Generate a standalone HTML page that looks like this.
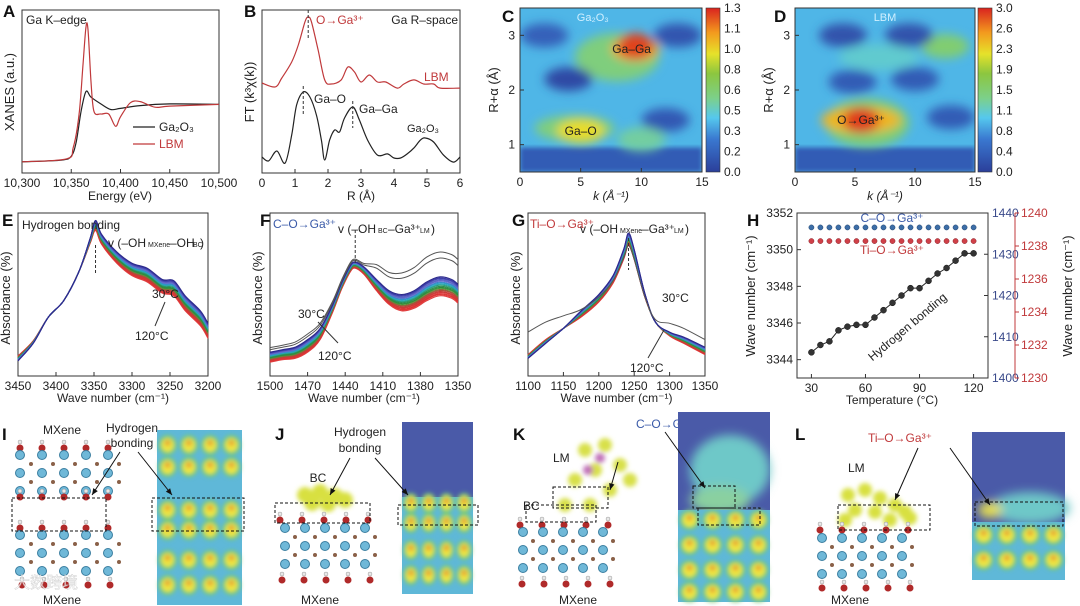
<!DOCTYPE html>
<html><head><meta charset="utf-8"><style>
html,body{margin:0;padding:0;background:#fff;}
svg{display:block;font-family:"Liberation Sans","Noto Sans CJK SC",sans-serif;}
</style></head><body>
<svg id="fig" width="1080" height="606" viewBox="0 0 1080 606" xmlns="http://www.w3.org/2000/svg">
<defs>
<linearGradient id="jet" x1="0" y1="1" x2="0" y2="0">
<stop offset="0" stop-color="#2b3f9a"/><stop offset="0.2" stop-color="#3a78d0"/><stop offset="0.33" stop-color="#55c8ee"/>
<stop offset="0.45" stop-color="#7cd08a"/><stop offset="0.6" stop-color="#8cc63f"/><stop offset="0.72" stop-color="#e6e22a"/>
<stop offset="0.85" stop-color="#f39a1e"/><stop offset="1" stop-color="#d9231f"/></linearGradient>
<filter id="blur6" x="-30%" y="-30%" width="160%" height="160%"><feGaussianBlur stdDeviation="5"/></filter>
<filter id="blur3"><feGaussianBlur stdDeviation="2.5"/></filter>
<clipPath id="clipC"><rect x="520" y="8" width="182" height="164"/></clipPath>
<clipPath id="clipD"><rect x="795" y="8" width="180" height="164"/></clipPath>
</defs>
<g id="root"></g>
</svg>
<script>
// ===== data =====
const aGa2O3E=[10300,10340,10350,10355,10360,10365,10370,10380,10390,10400,10420,10450,10500];
const aGa2O3V=[0.05,0.08,0.15,0.4,0.95,1.3,1.2,1.08,0.98,1.0,1.05,1.08,1.07];
const aLbmE=[10300,10345,10352,10358,10362,10365,10367,10370,10373,10380,10388,10395,10400,10410,10420,10435,10450,10500];
const aLbmV=[0.05,0.1,0.3,0.9,1.8,2.45,2.4,1.5,0.95,0.9,0.9,0.68,0.85,1.1,1.12,1.02,1.04,1.07];
const aTicks=["10,300","10,350","10,400","10,450","10,500"];

const bGaR=[0,0.2,0.45,0.7,0.9,1.05,1.25,1.45,1.65,1.8,1.9,2.05,2.2,2.35,2.5,2.75,2.95,3.2,3.5,3.8,4.0,4.2,4.4,4.6,4.8,4.95,5.2,5.5,5.8,6];
const bGaV=[0.98,0.74,1.35,0.61,2.33,4.17,4.97,4.66,3.56,2.02,0.8,2.02,2.64,2.52,3.37,4.05,3.25,2.02,1.1,1.17,0.92,0.92,1.17,1.53,2.02,2.15,1.9,1.1,0.67,0.98];
const bLbmR=[0,0.4,0.6,0.9,1.1,1.3,1.4,1.5,1.7,1.9,2.1,2.4,2.6,2.8,3.0,3.25,3.5,3.75,4.1,4.3,4.6,4.9,5.2,5.4,6];
const bLbmV=[5.52,5.28,5.83,6.81,7.85,9.26,9.57,9.26,7.55,5.71,5.46,5.71,6.5,6.2,5.58,6.01,5.58,5.58,5.21,5.46,5.71,5.46,5.46,5.21,5.21];

const tempColors=["#2c2a8c","#3b3aa6","#4b4fb8","#5a63c4","#6a6fd0","#3a86c8","#2aa0c8","#2aa8a8","#2a9a70","#2a8f50","#2f8a3c","#4a9a3a","#8a6a3a","#b04a3a","#c83a36","#d43a3a","#dc3030","#e03a3a","#e04040"];
const tempFactor=[1,0.94,0.89,0.83,0.78,0.72,0.67,0.61,0.56,0.5,0.44,0.39,0.33,0.28,0.22,0.17,0.11,0.06,0];

const eX=[3450,3430,3410,3390,3370,3355,3348,3340,3320,3300,3280,3260,3245,3230,3210,3200];
const eV=[16,28,47,60,83,106,116,105,90,80,75,66,64,52,40,30];
const eS=[-4,-2,0,0,0,4,8,8,9,10,11,11,12,12,12,12];
const fX=[1500,1490,1480,1470,1460,1450,1443,1436,1432,1425,1415,1405,1395,1385,1375,1365,1355,1350];
const fV=[11,13,14,19,29,51,69,83,86,81,68,57,52,54,60,64,62,58];
const fS=[8,8,9,10,9,6,5,5,5,6,9,11,13,14,15,15,15,15];
const gX=[1100,1125,1150,1175,1200,1220,1235,1242,1250,1265,1280,1300,1320,1350];
const gV=[17,29,38,47,59,74,93,104,93,63,43,32,26,17];
const gS=[-3,-3,0,5,6,6,8,10,8,3,0,3,5,6];

const hTemp=[30,35,40,45,50,55,60,65,70,75,80,85,90,95,100,105,110,115,120];
const hHB=[3344.4,3344.8,3345.0,3345.6,3345.8,3345.9,3345.9,3346.3,3346.7,3347.1,3347.5,3347.9,3347.9,3348.3,3348.7,3349.0,3349.4,3349.8,3349.8];
const hCO=[1436.5,1436.5,1436.5,1436.5,1436.5,1436.5,1436.5,1436.5,1436.5,1436.5,1436.5,1436.5,1436.5,1436.5,1436.5,1436.5,1436.5,1436.5,1436.5];
const hTiO=[1238.3,1238.3,1238.3,1238.3,1238.3,1238.3,1238.3,1238.3,1238.3,1238.3,1238.3,1238.3,1238.3,1238.3,1238.3,1238.3,1238.3,1238.3,1238.3];

const cBlobK=[8,4.5,5,9.5,9.5,4,13,12,10,2];
const cBlobR=[2.6,1.3,1.25,2.75,2.8,2.2,3.0,1.45,1.1,3.0];
const cBlobV=[0.62,0.62,0.95,1.05,1.25,0.05,0.1,0.12,0.55,0.15];
const dBlobK=[6,5.5,5.5,12.5,7,4,9.5,10,4.8,13];
const dBlobR=[1.4,1.45,1.45,2.8,2.6,3.0,3.0,2.2,2.15,1.5];
const dBlobV=[1.5,2.4,2.9,1.5,1.1,0.2,0.2,0.3,0.3,0.3];

// ===== helpers =====
const NS="http://www.w3.org/2000/svg";
const root=document.getElementById('root');
function el(tag,attrs,parent){const e=document.createElementNS(NS,tag);for(const k in attrs)e.setAttribute(k,attrs[k]);(parent||root).appendChild(e);return e;}
function txt(x,y,s,size,opts){const o=Object.assign({x:x,y:y,'font-size':size,fill:'#222'},opts||{});const t=el('text',o);t.textContent=s;return t;}
function lin(d0,d1,r0,r1){return v=>r0+(v-d0)/(d1-d0)*(r1-r0);}
function smooth(pts){let d="M"+pts[0][0].toFixed(1)+","+pts[0][1].toFixed(1);
 for(let i=0;i<pts.length-1;i++){const p0=pts[i-1]||pts[i],p1=pts[i],p2=pts[i+1],p3=pts[i+2]||p2;
  const c1=[p1[0]+(p2[0]-p0[0])/6,p1[1]+(p2[1]-p0[1])/6],c2=[p2[0]-(p3[0]-p1[0])/6,p2[1]-(p3[1]-p1[1])/6];
  d+=` C${c1[0].toFixed(1)},${c1[1].toFixed(1)} ${c2[0].toFixed(1)},${c2[1].toFixed(1)} ${p2[0].toFixed(1)},${p2[1].toFixed(1)}`;}
 return d;}
function box(x0,y0,x1,y1,name){const r=el('rect',{x:x0,y:y0,width:x1-x0,height:y1-y0,fill:'none',stroke:'#333','stroke-width':1});}
function panelLabel(x,y,s){const t=txt(x,y,s,17,{'font-weight':'bold',fill:'#111'});}
function xticks(xs,labels,sx,y1,name,len){xs.forEach((v,i)=>{el('line',{x1:sx(v),x2:sx(v),y1:y1,y2:y1-(len||4),stroke:'#333'});
 const t=txt(sx(v),y1+14,labels[i],12,{'text-anchor':'middle'});});}
function ylab(x,y,s,name,size){const t=txt(x,y,s,size||13,{'text-anchor':'middle',transform:`rotate(-90 ${x} ${y})`});return t;}
function label(x,y,s,size,name,opts){const t=txt(x,y,s,size,opts);return t;}

// ===== A =====
{const sx=lin(10300,10500,22,219),sy=lin(-0.15,2.75,173,10);
 panelLabel(3,17,'A');box(22,10,219,173,'plot-area-a');
 xticks([10300,10350,10400,10450,10500],aTicks,sx,173,'x-tick-a');
 label(120,200,'Energy (eV)',12,'x-axis-title-a',{'text-anchor':'middle'});
 ylab(14,92,'XANES (a.u.)','y-axis-title-a');
 label(26,24,'Ga K–edge',12,'annotation-ga-k-edge');
 let p=el('path',{d:smooth(aGa2O3E.map((e,i)=>[sx(e),sy(aGa2O3V[i])])),fill:'none',stroke:'#222','stroke-width':1.2});
 p=el('path',{d:smooth(aLbmE.map((e,i)=>[sx(e),sy(aLbmV[i])])),fill:'none',stroke:'#c0393b','stroke-width':1.2});
 el('line',{x1:133,x2:155,y1:127,y2:127,stroke:'#222','stroke-width':1.2});
 label(159,131,'Ga₂O₃',12,'legend-entry-ga2o3');
 el('line',{x1:133,x2:155,y1:144,y2:144,stroke:'#c0393b','stroke-width':1.2});
 label(159,148,'LBM',12,'legend-entry-lbm',{fill:'#c0393b'});}

// ===== B =====
{const sx=lin(0,6,262,460),sy=lin(0,10,173,10);
 panelLabel(244,17,'B');box(262,10,460,173,'plot-area-b');
 xticks([0,1,2,3,4,5,6],['0','1','2','3','4','5','6'],sx,173,'x-tick-b');
 label(361,200,'R (Å)',12,'x-axis-title-b',{'text-anchor':'middle'});
 ylab(254,92,'FT (k³χ(k))','y-axis-title-b');
 let p=el('path',{d:smooth(bGaR.map((r,i)=>[sx(r),sy(bGaV[i])])),fill:'none',stroke:'#222','stroke-width':1.2});
 p=el('path',{d:smooth(bLbmR.map((r,i)=>[sx(r),sy(bLbmV[i])])),fill:'none',stroke:'#c0393b','stroke-width':1.2});
 el('line',{x1:sx(1.4),x2:sx(1.4),y1:10,y2:40,stroke:'#333','stroke-dasharray':'3,2'});
 el('line',{x1:sx(1.25),x2:sx(1.25),y1:86,y2:115,stroke:'#333','stroke-dasharray':'3,2'});
 el('line',{x1:sx(2.75),x2:sx(2.75),y1:101,y2:128,stroke:'#333','stroke-dasharray':'3,2'});
 label(316,24,'O→Ga³⁺',12,'annotation-o-ga',{fill:'#c0393b'});
 label(458,24,'Ga R–space',12,'annotation-r-space',{'text-anchor':'end'});
 label(424,81,'LBM',12,'annotation-lbm',{fill:'#c0393b'});
 label(314,103,'Ga–O',12,'annotation-ga-o');
 label(359,113,'Ga–Ga',12,'annotation-ga-ga');
 label(407,132,'Ga₂O₃',11,'annotation-ga2o3');}

// ===== heatmaps =====
const jetStops=[[0,[43,63,154]],[0.2,[58,120,208]],[0.33,[85,200,238]],[0.45,[124,208,138]],[0.6,[140,198,63]],[0.72,[230,226,42]],[0.85,[243,154,30]],[1,[217,35,31]]];
function jet(f){f=Math.max(0,Math.min(1,f));for(let i=1;i<jetStops.length;i++){if(f<=jetStops[i][0]){const a=jetStops[i-1],b=jetStops[i],t=(f-a[0])/(b[0]-a[0]);const c=a[1].map((v,j)=>Math.round(v+(b[1][j]-v)*t));return `rgb(${c})`;}}return 'rgb(217,35,31)';}
function heat(x0,x1,bx,label0,vmax,ticks,Ks,Rs,Vs,clip,name,panel,lx){
 const sx=lin(0,15,x0,x1),sy=lin(0.5,3.5,172,8);
 panelLabel(lx,22,panel);
 const g=el('g',{'clip-path':`url(#${clip})`});
 el('rect',{x:x0,y:8,width:x1-x0,height:164,fill:jet(0.3)},g);
 el('rect',{x:x0,y:sy(0.95),width:x1-x0,height:172-sy(0.95),fill:jet(0.1),filter:'url(#blur3)'},g);
 const gb=el('g',{filter:'url(#blur6)'},g);
 Ks.forEach((k,i)=>{const big=i<2||(panel==='D'&&i===4);
  const e=el('ellipse',{cx:sx(k),cy:sy(Rs[i]),rx:big?(i===0?42:40):(Vs[i]>0.9*vmax?18:24),ry:big?(i===0?24:13):(Vs[i]>0.9*vmax?13:12),fill:jet(Vs[i]/vmax)},gb);
  });
 box(x0,8,x1,172,name);
 xticks([0,5,10,15],['0','5','10','15'],sx,172,'x-tick-'+panel.toLowerCase());
 [1,2,3].forEach(r=>{el('line',{x1:x0,x2:x0+4,y1:sy(r),y2:sy(r),stroke:'#333'});label(x0-5,sy(r)+4,String(r),12,'y-tick-'+panel.toLowerCase(),{'text-anchor':'end'});});
 label((x0+x1)/2,200,'k (Å⁻¹)',12,'x-axis-title-'+panel.toLowerCase(),{'text-anchor':'middle','font-style':'italic'});
 ylab(x0-22,90,'R+α (Å)','y-axis-title-'+panel.toLowerCase());
 const cb=el('rect',{x:bx,y:8,width:14,height:164,fill:'url(#jet)',stroke:'#333','stroke-width':0.6});
 ticks.forEach((t,i)=>{const y=172-i*164/(ticks.length-1);label(bx+18,y+4,t,12,'colorbar-tick-'+panel.toLowerCase());});
 return {sx,sy};}
{const a=heat(520,702,706,'Ga₂O₃',1.3,['0.0','0.2','0.3','0.5','0.6','0.8','1.0','1.1','1.3'],cBlobK,cBlobR,cBlobV,'clipC','plot-area-c','C',502);
 label(a.sx(6),21,'Ga₂O₃',11,'annotation-c-title',{fill:'#cfefff','text-anchor':'middle'});
 label(a.sx(9.2),a.sy(2.75)+4,'Ga–Ga',12,'annotation-c-ga-ga',{'text-anchor':'middle'});
 label(a.sx(5),a.sy(1.25)+4,'Ga–O',12,'annotation-c-ga-o',{'text-anchor':'middle'});}
{const a=heat(795,975,978,'LBM',3.0,['0.0','0.4','0.8','1.1','1.5','1.9','2.3','2.6','3.0'],dBlobK,dBlobR,dBlobV,'clipD','plot-area-d','D',774);
 label(a.sx(7.5),21,'LBM',11,'annotation-d-title',{fill:'#cfefff','text-anchor':'middle'});
 label(a.sx(5.5),a.sy(1.45)+4,'O→Ga³⁺',12,'annotation-d-o-ga',{'text-anchor':'middle'});}

// ===== E F G =====
function ftir(x0,x1,dom,X,V,S,ticks,panel,lx){
 const sx=lin(dom[0],dom[1],x0,x1),sy=lin(0,130,376,213);
 panelLabel(lx,226,panel);box(x0,213,x1,376,'plot-area-'+panel.toLowerCase());
 xticks(ticks,ticks.map(String),sx,376,'x-tick-'+panel.toLowerCase());
 label((x0+x1)/2,402,'Wave number (cm⁻¹)',12,'x-axis-title-'+panel.toLowerCase(),{'text-anchor':'middle'});
 ylab(x0-8,298,'Absorbance (%)','y-axis-title-'+panel.toLowerCase());
 for(let ti=tempFactor.length-1;ti>=0;ti--){const f=tempFactor[ti];const p=el('path',{d:smooth(X.map((x,i)=>[sx(x),sy(V[i]+S[i]*f)])),fill:'none',stroke:tempColors[ti],'stroke-width':1.1});
  }
 return {sx,sy};}
{const a=ftir(18,208,[3450,3200],eX,eV,eS,[3450,3400,3350,3300,3250,3200],'E',2);
 label(22,229,'Hydrogen bonding',12,'annotation-e-hb');
 label(108,247,'v (–OH',12,'annotation-e-mode');label(148,247,'MXene',7,'annotation-e-sub1');label(170,247,'–OH',12,'annotation-e-sub2');label(193,247,'BC',7,'annotation-e-sub3');label(200,247,')',12,'annotation-e-end');
 el('line',{x1:a.sx(3348),x2:a.sx(3348),y1:245,y2:275,stroke:'#333','stroke-dasharray':'3,2'});
 label(152,298,'30°C',12,'annotation-e-30');label(135,340,'120°C',12,'annotation-e-120');
 el('line',{x1:155,x2:165,y1:326,y2:302,stroke:'#333'});}
{const a=ftir(270,458,[1500,1350],fX,fV,fS,[1500,1470,1440,1410,1380,1350],'F',260);
 [1.45,1.25].forEach(f=>{const p=el('path',{d:smooth(fX.map((x,i)=>[a.sx(x),a.sy(fV[i]+fS[i]*f*(i>9?1.6:1))])),fill:'none',stroke:'#555','stroke-width':1});});
 label(273,228,'C–O→Ga³⁺',12,'annotation-f-co',{fill:'#3a5aa8'});
 label(338,233,'v (–OH',12,'annotation-f-mode');label(378,233,'BC',7,'annotation-f-sub');label(388,233,'–Ga³⁺',12,'annotation-f-ga');label(420,233,'LM',7,'annotation-f-sub2');label(431,233,')',12,'annotation-f-end');
 el('line',{x1:a.sx(1432),x2:a.sx(1432),y1:230,y2:265,stroke:'#333','stroke-dasharray':'3,2'});
 label(298,318,'30°C',12,'annotation-f-30');label(318,360,'120°C',12,'annotation-f-120');
 el('line',{x1:318,x2:338,y1:322,y2:343,stroke:'#333'});}
{const a=ftir(528,705,[1100,1350],gX,gV,gS,[1100,1150,1200,1250,1300,1350],'G',512);
 const p=el('path',{d:smooth(gX.map((x,i)=>[a.sx(x),a.sy(gV[i]+[18,14,10,6,4,2,1,0,0,0,2,10,12,12][i])])),fill:'none',stroke:'#555','stroke-width':1});
 label(530,228,'Ti–O→Ga³⁺',12,'annotation-g-tio',{fill:'#c0393b'});
 label(580,233,'v (–OH',12,'annotation-g-mode');label(620,233,'MXene',7,'annotation-g-sub');label(642,233,'–Ga³⁺',12,'annotation-g-ga');label(674,233,'LM',7,'annotation-g-sub2');label(685,233,')',12,'annotation-g-end');
 el('line',{x1:a.sx(1242),x2:a.sx(1242),y1:238,y2:270,stroke:'#333','stroke-dasharray':'3,2'});
 label(662,302,'30°C',12,'annotation-g-30');label(630,372,'120°C',12,'annotation-g-120');
 el('line',{x1:648,x2:664,y1:358,y2:330,stroke:'#333'});}

// ===== H =====
{const sx=lin(22,128,797,988),sy=lin(3343,3352,378,213),syB=lin(1400,1440,378,213),syR=lin(1230,1240,378,213);
 panelLabel(747,226,'H');box(797,213,988,378,'plot-area-h');
 xticks([30,60,90,120],['30','60','90','120'],sx,378,'x-tick-h');
 label(892,404,'Temperature (°C)',12,'x-axis-title-h',{'text-anchor':'middle'});
 [3344,3346,3348,3350,3352].forEach(v=>{el('line',{x1:797,x2:801,y1:sy(v),y2:sy(v),stroke:'#333'});label(793,sy(v)+4,String(v),12,'y-tick-h-left',{'text-anchor':'end'});});
 ylab(755,296,'Wave number (cm⁻¹)','y-axis-title-h-left');
 [1400,1410,1420,1430,1440].forEach(v=>{el('line',{x1:988,x2:984,y1:syB(v),y2:syB(v),stroke:'#333'});label(992,syB(v)+4,String(v),12,'y-tick-h-blue',{fill:'#3a4a8a'});});
 el('line',{x1:1015,x2:1015,y1:213,y2:378,stroke:'#c0393b'});
 [1230,1232,1234,1236,1238,1240].forEach(v=>{el('line',{x1:1015,x2:1019,y1:syR(v),y2:syR(v),stroke:'#c0393b'});label(1021,syR(v)+4,String(v),12,'y-tick-h-red',{fill:'#c0393b'});});
 ylab(1072,296,'Wave number (cm⁻¹)','y-axis-title-h-right');
 let p=el('polyline',{points:hTemp.map((t,i)=>sx(t)+','+sy(hHB[i])).join(' '),fill:'none',stroke:'#222','stroke-width':1});
 hTemp.forEach((t,i)=>{let c=el('circle',{cx:sx(t),cy:syB(hCO[i]),r:2.6,fill:'#3d6ea8',stroke:'#24466e','stroke-width':0.5});
  c=el('circle',{cx:sx(t),cy:syR(hTiO[i]),r:2.6,fill:'#d04048',stroke:'#8a2028','stroke-width':0.5});
  c=el('circle',{cx:sx(t),cy:sy(hHB[i]),r:3,fill:'#333',stroke:'#111','stroke-width':0.5});});
 label(892,222,'C–O→Ga³⁺',12,'annotation-h-co',{fill:'#3a5aa8','text-anchor':'middle'});
 label(892,254,'Ti–O→Ga³⁺',12,'annotation-h-tio',{fill:'#c0393b','text-anchor':'middle'});
 label(910,330,'Hydrogen bonding',12,'annotation-h-hb',{'text-anchor':'middle',transform:'rotate(-40 910 330)'});}

// ===== bottom molecular panels =====
function atoms(x0,y0,cols,rows,dx,dy,name){const g=el('g',{});
 for(let r=0;r<rows;r++)for(let c=0;c<cols;c++){const x=x0+c*dx+(r%2?dx/2:0),y=y0+r*dy;
  if(r%2===0){el('circle',{cx:x,cy:y,r:4.5,fill:'#6fb8d8',stroke:'#3a7ea0','stroke-width':1},g);}else{el('circle',{cx:x,cy:y,r:2,fill:'#8a6048'},g);}}}
function hydroxyl(x0,y,n,dx,name){const g=el('g',{});
 for(let i=0;i<n;i++){const x=x0+i*dx;el('circle',{cx:x,cy:y,r:3.5,fill:'#b02a2a'},g);el('circle',{cx:x,cy:y-6,r:2,fill:'#e8e8e8',stroke:'#999','stroke-width':0.5},g);}}
function density(x,y,w,h,cols,rowsY,name,top){const g=el('g',{});
 el('rect',{x:x,y:y,width:w,height:h,fill:'#4a5aa8'},g);
 el('rect',{x:x,y:top,width:w,height:y+h-top,fill:'#5fb8d8'},g);
 const gb=el('g',{filter:'url(#blur3)'},g);
 rowsY.forEach(ry=>{for(let c=0;c<cols;c++){const cx=x+(c+0.5)*w/cols;
  el('ellipse',{cx:cx,cy:ry,rx:w/cols*0.42,ry:10,fill:'#6ac878'},gb);
  el('ellipse',{cx:cx,cy:ry,rx:w/cols*0.3,ry:7,fill:'#f0e840'},gb);
  el('circle',{cx:cx,cy:ry-2,r:2.5,fill:'#e07030'},gb);}});}
function dashBox(x,y,w,h){el('rect',{x:x,y:y,width:w,height:h,fill:'none',stroke:'#111','stroke-dasharray':'3,2','stroke-width':1});}
function arrow(x1,y1,x2,y2){el('line',{x1:x1,y1:y1,x2:x2,y2:y2,stroke:'#111','stroke-width':1});const a=Math.atan2(y2-y1,x2-x1);
 el('polygon',{points:`${x2},${y2} ${x2-7*Math.cos(a-0.4)},${y2-7*Math.sin(a-0.4)} ${x2-7*Math.cos(a+0.4)},${y2-7*Math.sin(a+0.4)}`,fill:'#111'});}

// I
panelLabel(2,440,'I');
label(62,434,'MXene',12,'label-i-mxene-top',{'text-anchor':'middle'});
label(132,432,'Hydrogen',12,'label-i-hb1',{'text-anchor':'middle'});label(132,447,'bonding',12,'label-i-hb2',{'text-anchor':'middle'});
hydroxyl(20,448,5,22,'hydroxyl-i-top');atoms(20,455,5,5,22,9,'atoms-i-top');hydroxyl(20,497,5,22,'hydroxyl-i-mid1');
hydroxyl(20,528,5,22,'hydroxyl-i-mid2');atoms(20,535,5,5,22,9,'atoms-i-bottom');hydroxyl(22,585,5,22,'hydroxyl-i-bottom');
dashBox(12,498,94,33);
density(157,430,85,175,4,[445,467,510,530,560,585],'density-map-i',430);
dashBox(152,498,92,33);
arrow(120,452,92,495);arrow(138,452,172,495);
label(62,604,'MXene',12,'label-i-mxene-bottom',{'text-anchor':'middle'});
label(14,588,'大数跨境',16,'watermark',{fill:'#ffffff',opacity:0.75,stroke:'#bbb','stroke-width':0.4});
// J
panelLabel(275,440,'J');
label(360,436,'Hydrogen',12,'label-j-hb1',{'text-anchor':'middle'});label(360,452,'bonding',12,'label-j-hb2',{'text-anchor':'middle'});
label(318,482,'BC',12,'label-j-bc',{'text-anchor':'middle'});
{const g=el('g',{filter:'url(#blur3)'});
 [[305,495],[320,492],[335,496],[312,503],[328,504],[345,500]].forEach(p=>el('circle',{cx:p[0],cy:p[1],r:8,fill:'#d8e040'},g));}
hydroxyl(280,520,5,22,'hydroxyl-j-top');atoms(285,528,5,5,20,9,'atoms-j');hydroxyl(282,580,5,22,'hydroxyl-j-bottom');
dashBox(275,503,95,20);
density(402,422,71,172,4,[503,523,550,575],'density-map-j',497);
dashBox(398,505,80,20);
arrow(350,458,330,495);arrow(375,458,408,495);
label(320,604,'MXene',12,'label-j-mxene',{'text-anchor':'middle'});
// K
panelLabel(513,440,'K');
label(553,462,'LM',12,'label-k-lm');label(523,510,'BC',12,'label-k-bc');
label(636,428,'C–O→Ga³⁺',12,'label-k-co',{fill:'#3a5aa8'});
{const g=el('g',{filter:'url(#blur3)'});
 [[585,450],[605,445],[595,470],[620,465],[610,490],[630,480],[575,480],[590,505],[565,505]].forEach(p=>el('circle',{cx:p[0],cy:p[1],r:7,fill:'#d8e048'},g));
 [[588,470],[600,458]].forEach(p=>el('circle',{cx:p[0],cy:p[1],r:5,fill:'#c070b8'},g));}
hydroxyl(520,525,5,22,'hydroxyl-k-top');atoms(523,532,5,5,20,9,'atoms-k');hydroxyl(522,584,5,22,'hydroxyl-k-bottom');
dashBox(553,487,55,21);dashBox(526,505,70,17);
{const g=el('g',{});
 el('rect',{x:678,y:412,width:92,height:190,fill:'#4a5aa8'},g);
 const gb=el('g',{filter:'url(#blur6)'},g);
 el('ellipse',{cx:730,cy:470,rx:40,ry:35,fill:'#6ec8c8'},gb);el('ellipse',{cx:720,cy:500,rx:30,ry:14,fill:'#8ad0a0'},gb);}
density(678,510,92,92,4,[520,545,570,592],'density-map-k-lower',510);
dashBox(693,486,42,22);dashBox(698,508,62,17);
arrow(618,462,610,490);arrow(665,432,705,488);
label(578,604,'MXene',12,'label-k-mxene',{'text-anchor':'middle'});
// L
panelLabel(795,440,'L');
label(848,472,'LM',12,'label-l-lm');
label(868,442,'Ti–O→Ga³⁺',12,'label-l-tio',{fill:'#c0393b'});
{const g=el('g',{filter:'url(#blur3)'});
 [[848,495],[865,490],[880,498],[895,505],[855,510],[875,512],[905,512],[845,520],[890,520],[910,518]].forEach(p=>el('circle',{cx:p[0],cy:p[1],r:7,fill:'#d8e040'},g));}
hydroxyl(820,530,5,22,'hydroxyl-l-top');atoms(822,538,5,5,20,9,'atoms-l');hydroxyl(822,588,5,22,'hydroxyl-l-bottom');
dashBox(838,505,92,25);
{const g=el('g',{});
 el('rect',{x:972,y:432,width:93,height:148,fill:'#4a5aa8'},g);
 const gb=el('g',{filter:'url(#blur6)'},g);
 el('ellipse',{cx:1030,cy:508,rx:40,ry:16,fill:'#6ec8c8'},gb);el('ellipse',{cx:990,cy:510,rx:12,ry:8,fill:'#e8e050'},gb);}
density(972,525,93,55,4,[535,560],'density-map-l-lower',522);
dashBox(975,502,88,24);
arrow(918,448,895,500);arrow(950,448,990,505);
label(850,604,'MXene',12,'label-l-mxene',{'text-anchor':'middle'});
</script>
</body></html>
